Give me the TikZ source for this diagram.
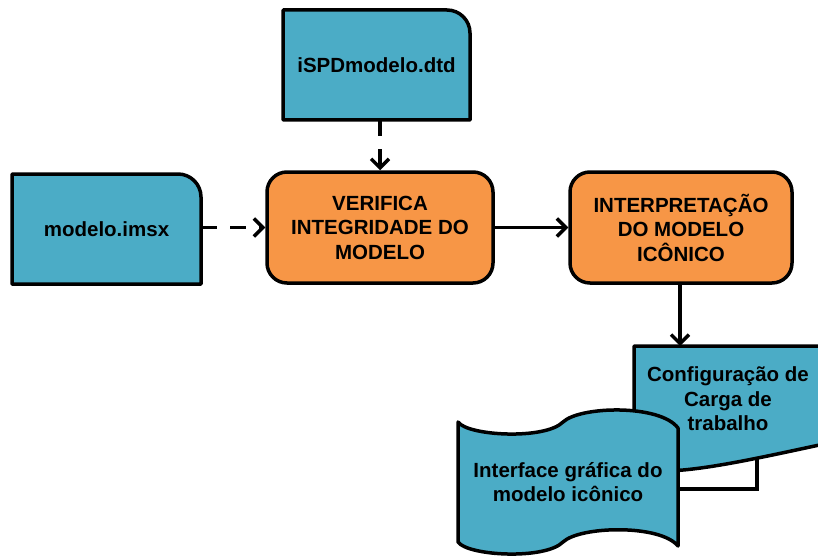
\documentclass[tikz,border=0pt]{standalone}
\usepackage{fontspec}
\setmainfont{Liberation Sans}
\usetikzlibrary{arrows.meta}
\definecolor{boxblue}{HTML}{4BACC6}
\definecolor{boxorange}{HTML}{F79646}
\newcommand\lblfont{\fontsize{20.5}{24.5}\selectfont\bfseries}
\begin{document}
\begin{tikzpicture}[x=1pt,y=-1pt,
  shapeline/.style={draw=black, line width=3.5pt, line join=round},
  bluefill/.style={shapeline, fill=boxblue},
  procbox/.style={shapeline, fill=boxorange, rounded corners=20pt, inner sep=0pt, align=center, font=\lblfont},
  lbl/.style={align=center, font=\lblfont, inner sep=0pt},
  conn/.style={line width=3.5pt, -{Straight Barb[length=9pt,width=18pt]}},
  dashconn/.style={conn, dash pattern=on 16pt off 13pt},
  plainconn/.style={line width=3.5pt, line join=miter},
]
\useasboundingbox (0,0) rectangle (818,556);
\clip (0,0) rectangle (818,556);

% Configuracao de Carga de trabalho (document shape, cut by the right edge)
\path[bluefill] (634,346) -- (824,346) -- (824,444)
  .. controls (740,462) and (670,478) .. (634,468) -- cycle;
\node[lbl] (cfg) at (728,399) {Configuração de\\Carga de\\trabalho};
\coordinate (cfgtop) at (680,346);
\coordinate (cfgB) at (757,458);
\coordinate (ifaceR) at (678,489);
\draw[plainconn] (cfgB) |- (ifaceR);

% Interface grafica (punched tape)
\path[bluefill] (458,422)
  .. controls (468,436) and (545,440) .. (563,422)
  .. controls (580,406) and (660,404) .. (678,428)
  -- (678,546)
  .. controls (660,524) and (580,526) .. (563,542)
  .. controls (545,560) and (468,556) .. (458,542)
  -- cycle;
\node[lbl] (iface) at (568,482) {Interface gráfica do\\modelo icônico};

% modelo.imsx
\path[bluefill] (12,284) -- (12,174) -- (178,174)
  .. controls (190.7,174) and (201,184.3) .. (201,197) -- (201,284) -- cycle;
\node[lbl, minimum width=189pt, minimum height=110pt] (imsx) at (106.5,229) {modelo.imsx};

% iSPDmodelo.dtd
\path[bluefill] (283,120) -- (283,10) -- (447,10)
  .. controls (459.7,10) and (470,20.3) .. (470,33) -- (470,120) -- cycle;
\node[lbl, minimum width=187pt, minimum height=110pt] (dtd) at (376.5,65) {iSPDmodelo.dtd};

% process boxes
\node[procbox, minimum width=226pt, minimum height=111pt] (verif) at (380,227.5)
  {VERIFICA\\INTEGRIDADE DO\\MODELO};
\node[procbox, minimum width=222pt, minimum height=111pt] (interp) at (681,227.5)
  {INTERPRETAÇÃO\\DO MODELO\\ICÔNICO};

% connectors
\draw[dashconn] (imsx.east |- verif.west) -- (verif.west);
\draw[dashconn] (verif.north |- dtd.south) -- (verif.north);
\draw[conn] (verif.east) -- (interp.west);
\draw[conn] (interp.south -| cfgtop) -- (cfgtop);
\end{tikzpicture}
\end{document}
